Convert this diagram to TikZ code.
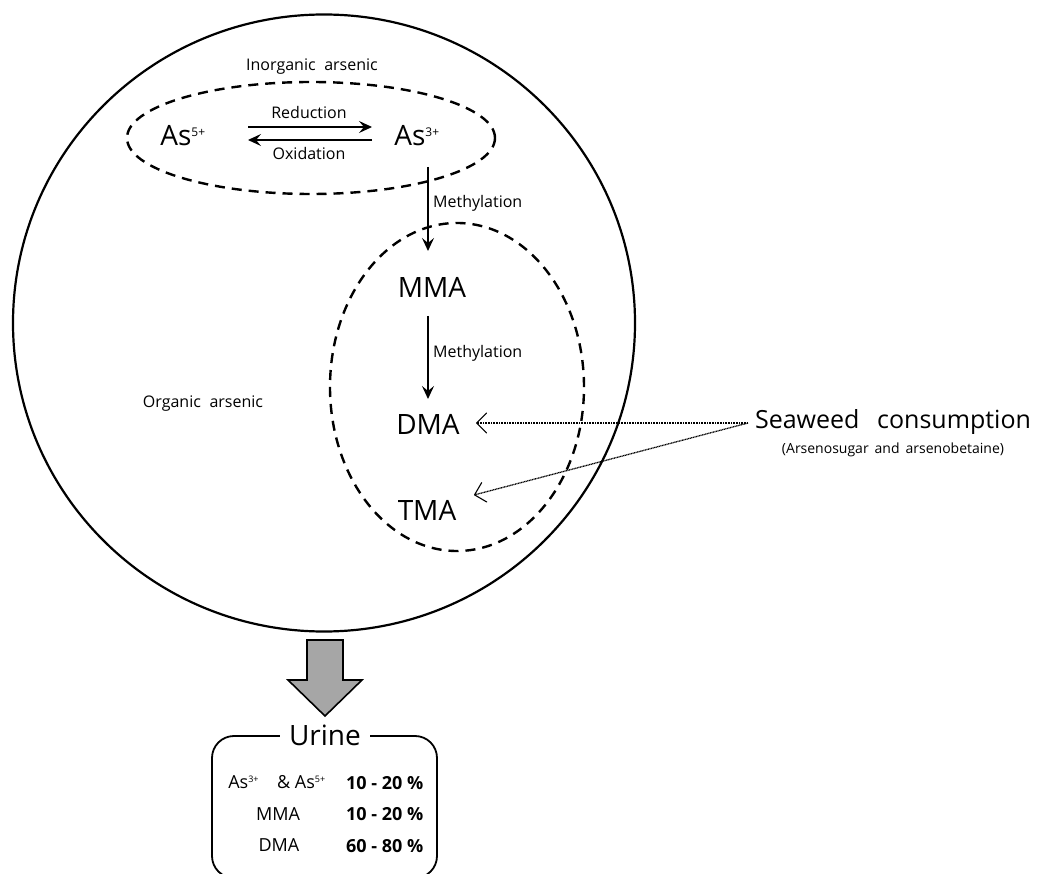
\documentclass[tikz,border=0pt]{standalone}
\usepackage{fontspec}
\setmainfont{Open Sans}
\usetikzlibrary{arrows.meta,shapes.geometric}
\begin{document}
\begin{tikzpicture}[x=1pt,y=-1pt,
  big/.style={font=\fontsize{28}{30}\selectfont, inner sep=0pt},
  small/.style={font=\fontsize{16}{18}\selectfont, inner sep=0pt},
  region/.style={draw, line width=2.4pt, dash pattern=on 10pt off 7pt},
  react/.style={line width=1.1pt, -{Stealth[length=13pt,width=12pt,inset=5pt]}},
  meth/.style={line width=1.3pt, -{Stealth[length=13pt,width=12pt,inset=5pt]}},
  feed/.style={line width=1.3pt, dash pattern=on 1pt off 0.6pt, -{Straight Barb[length=10pt,width=20pt,line width=1.1pt,round]}},
  pct/.style={font=\fontsize{18}{20}\selectfont\bfseries, inner sep=0pt, anchor=west},
  tab/.style={font=\fontsize{18}{20}\selectfont, inner sep=0pt}
]
\useasboundingbox (0,0) rectangle (1037,874);
\clip (0,0) rectangle (1037,874);
\fill[white] (0,0) rectangle (1037,874);

% body
\node[draw, line width=2.2pt, ellipse, minimum width=622pt, minimum height=617pt, inner sep=0pt] (body) at (324,323) {};
% inorganic and organic regions
\node[region, ellipse, minimum width=368pt, minimum height=112pt, inner sep=0pt] (inorg) at (311,138) {};
\node[region, ellipse, minimum width=254pt, minimum height=328pt, inner sep=0pt] (org) at (457,387) {};

\node[small] (inorglab) at (312,67) {Inorganic\; arsenic};
\node[small] (orglab) at (203,404) {Organic\; arsenic};

\node[big] (as5) at (183,136) {As\textsuperscript{\fontsize{12}{13}\selectfont 5+}};
\node[big] (as3) at (417,136) {As\textsuperscript{\fontsize{12}{13}\selectfont 3+}};

\coordinate (r1) at (248,127);
\coordinate (r2) at (372,127);
\coordinate (o1) at (372,140);
\coordinate (o2) at (248,140);
\draw[react] (r1) -- (r2);
\draw[react] (o1) -- (o2);
\node[small] (red) at (309,113) {Reduction};
\node[small] (oxi) at (309,154) {Oxidation};

\node[big] (mma) at (432,287) {MMA};
\node[big] (dma) at (428,424) {DMA};
\node[big] (tma) at (427,510) {TMA};

\coordinate (m1a) at (428,167);
\coordinate (m1b) at (428,251);
\coordinate (m2a) at (428,316);
\coordinate (m2b) at (428,399);
\draw[meth] (m1a) -- (m1b);
\node[small, anchor=west] (meth1) at (433,203) {Methylation};
\draw[meth] (m2a) -- (m2b);
\node[small, anchor=west] (meth2) at (433,353) {Methylation};

\node[font=\fontsize{25}{27}\selectfont, inner sep=0pt] (sea) at (893,422) {Seaweed\;\, consumption};
\node[font=\fontsize{14}{15}\selectfont, inner sep=0pt] (seasub) at (893,450) {(Arsenosugar\, and\, arsenobetaine)};
\coordinate (src) at (748,423);
\coordinate (dmain) at (476,423);
\coordinate (tmain) at (474,495);
\draw[feed] (src) -- (dmain);
\draw[feed] (src) -- (tmain);

% excretion arrow
\draw[line width=1.6pt, fill=black!35, line join=miter] (307,640) -- (343,640) -- (343,680) -- (362,680) -- (325,716) -- (288,680) -- (307,680) -- cycle;

% urine box
\draw[line width=1.8pt, rounded corners=22pt] (212,736) rectangle (437,878);
\node[font=\fontsize{28}{30}\selectfont, fill=white, inner xsep=9pt, inner ysep=2pt] (urine) at (325,735) {Urine};

\node[tab] (t1) at (277,782) {As\textsuperscript{\fontsize{9}{10}\selectfont 3+}\quad\& As\textsuperscript{\fontsize{9}{10}\selectfont 5+}};
\node[tab] (t2) at (278,814) {MMA};
\node[tab] (t3) at (279,845) {DMA};
\node[pct] (p1) at (346,783) {10 - 20 \%};
\node[pct] (p2) at (346,814) {10 - 20 \%};
\node[pct] (p3) at (346,846) {60 - 80 \%};
\end{tikzpicture}
\end{document}
